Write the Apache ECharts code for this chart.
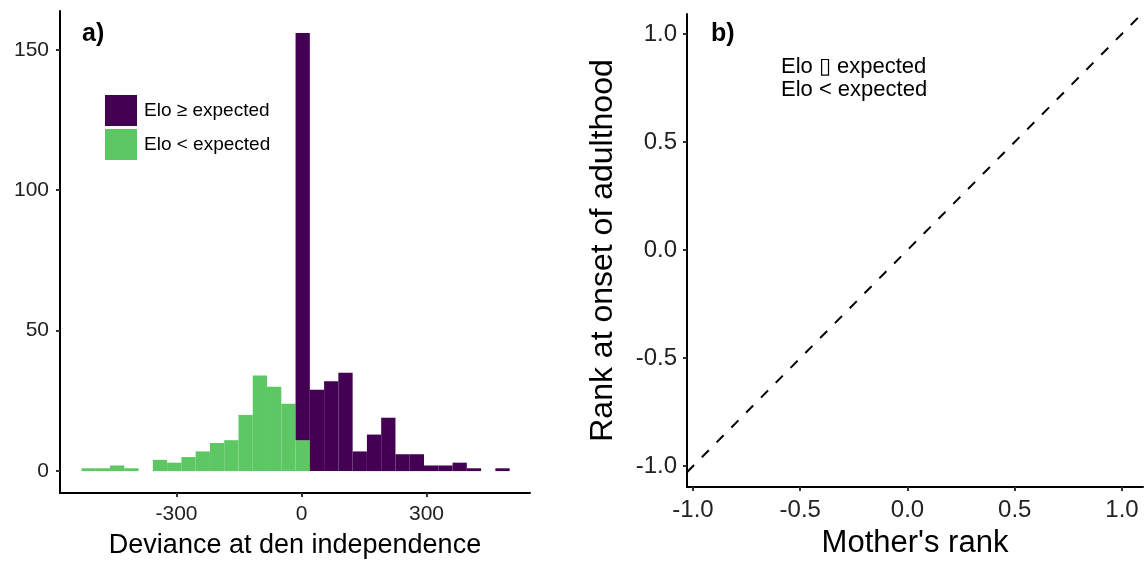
<!DOCTYPE html>
<html>
<head>
<meta charset="utf-8">
<script src="https://cdn.jsdelivr.net/npm/echarts@6/dist/echarts.min.js"></script>
<style>
  html, body { margin: 0; padding: 0; background: #fff; }
  #main { width: 1148px; height: 564px; }
</style>
</head>
<body>
<div id="main"></div>
<script>
// histogram bins (30 bins, ggplot default)
var binStart = -528;
var binWidth = 34.25;
var countLow  = [1, 1, 2, 1, 0, 4, 3, 5, 7, 10, 11, 20, 34, 30, 24, 11, 0, 0, 0, 0, 0, 0, 0, 0, 0, 0, 0, 0, 0, 0];
var countHigh = [0, 0, 0, 0, 0, 0, 0, 0, 0, 0, 0, 0, 0, 0, 0, 145, 29, 32, 35, 7, 13, 19, 6, 6, 2, 2, 3, 1, 0, 1];
var ticksA_x = [-300, 0, 300];
var ticksA_y = [0, 50, 100, 150];
var ticksB = [-1, -0.5, 0, 0.5, 1];
var lowName = 'Elo < expected';
var highName = 'Elo \u2265 expected';

var purple = '#440154';
var green = '#5DC863';

// stacked rectangles: [x0, x1, yBottom, yTop]
var lowRects = [], highRects = [];
for (var i = 0; i < countLow.length; i++) {
    var x0 = binStart + i * binWidth, x1 = x0 + binWidth;
    if (countLow[i] > 0) lowRects.push([x0, x1, 0, countLow[i]]);
    if (countHigh[i] > 0) highRects.push([x0, x1, countLow[i], countLow[i] + countHigh[i]]);
}

function renderRect(params, api) {
    var p0 = api.coord([api.value(0), api.value(3)]);
    var p1 = api.coord([api.value(1), api.value(2)]);
    return {
        type: 'rect',
        shape: { x: p0[0], y: p0[1], width: p1[0] - p0[0], height: p1[1] - p0[1] },
        style: api.style()
    };
}

var bXmin = -1.028, bXmax = 1.098;

var axisLine = { show: true, onZero: false, lineStyle: { color: '#000', width: 2 } };
var axisTick = { show: true, inside: false, length: 4, lineStyle: { color: '#333', width: 2 } };
var font = 'Liberation Sans, Arial, sans-serif';

var dom = document.getElementById('main');
var myChart = echarts.init(dom);
var option = {
    backgroundColor: '#fff',
    animation: false,
    textStyle: { fontFamily: font },
    title: [
        { text: 'a)', left: 77, top: 17, textStyle: { fontSize: 25, fontWeight: 'bold', color: '#000', fontFamily: font } },
        { text: 'b)', left: 706, top: 17, textStyle: { fontSize: 25, fontWeight: 'bold', color: '#000', fontFamily: font } }
    ],
    legend: {
        orient: 'vertical',
        left: 100,
        top: 90,
        itemWidth: 32,
        itemHeight: 31,
        itemGap: 3,
        icon: 'rect',
        data: [highName, lowName],
        textStyle: { fontSize: 19, color: '#000', padding: [0, 0, 0, 2], fontFamily: font }
    },
    graphic: [
        { type: 'text', left: 781, top: 56, style: { text: 'Elo \u25AF expected', font: '22px ' + font, fill: '#000' } },
        { type: 'text', left: 781, top: 79, style: { text: 'Elo < expected', font: '22px ' + font, fill: '#000' } }
    ],
    grid: [
        { left: 60, top: 11, width: 470, height: 488 },
        { left: 687, top: 14, width: 456, height: 476 }
    ],
    xAxis: [
        {
            gridIndex: 0, type: 'value', min: -579.6, max: 548.4,
            splitLine: { show: false }, axisLine: axisLine, axisTick: Object.assign({ customValues: ticksA_x }, axisTick),
            axisLabel: { customValues: ticksA_x, fontSize: 21, color: '#222', margin: 11, fontFamily: font },
            name: 'Deviance at den independence', nameLocation: 'middle', nameGap: 39,
            nameTextStyle: { fontSize: 27, color: '#000', fontFamily: font }
        },
        {
            gridIndex: 1, type: 'value', min: bXmin, max: bXmax,
            splitLine: { show: false }, axisLine: axisLine, axisTick: Object.assign({ customValues: ticksB }, axisTick),
            axisLabel: { customValues: ticksB, fontSize: 24, color: '#222', margin: 11, fontFamily: font,
                formatter: function (v) { return v.toFixed(1); } },
            name: "Mother's rank", nameLocation: 'middle', nameGap: 41,
            nameTextStyle: { fontSize: 31, color: '#000', fontFamily: font }
        }
    ],
    yAxis: [
        {
            gridIndex: 0, type: 'value', min: -7.8, max: 163.8,
            splitLine: { show: false }, axisLine: axisLine, axisTick: Object.assign({ customValues: ticksA_y }, axisTick),
            axisLabel: { customValues: ticksA_y, fontSize: 21, color: '#222', margin: 11, fontFamily: font }
        },
        {
            gridIndex: 1, type: 'value', min: -1.0966, max: 1.092,
            splitLine: { show: false }, axisLine: axisLine, axisTick: Object.assign({ customValues: ticksB }, axisTick),
            axisLabel: { customValues: ticksB, fontSize: 24, color: '#222', margin: 10, fontFamily: font,
                formatter: function (v) { return v.toFixed(1); } },
            name: 'Rank at onset of adulthood', nameLocation: 'middle', nameGap: 68, nameRotate: 90,
            nameTextStyle: { fontSize: 32, color: '#000', fontFamily: font }
        }
    ],
    series: [
        {
            name: lowName, type: 'custom', xAxisIndex: 0, yAxisIndex: 0,
            renderItem: renderRect, itemStyle: { color: green },
            encode: { x: [0, 1], y: [2, 3] }, data: lowRects
        },
        {
            name: highName, type: 'custom', xAxisIndex: 0, yAxisIndex: 0,
            renderItem: renderRect, itemStyle: { color: purple },
            encode: { x: [0, 1], y: [2, 3] }, data: highRects
        },
        {
            name: 'identity', type: 'line', xAxisIndex: 1, yAxisIndex: 1,
            showSymbol: false, silent: true,
            lineStyle: { color: '#000', width: 2, type: [10, 11] },
            data: [[bXmin, bXmin], [bXmax, bXmax]]
        }
    ]
};
myChart.setOption(option);
</script>
</body>
</html>
